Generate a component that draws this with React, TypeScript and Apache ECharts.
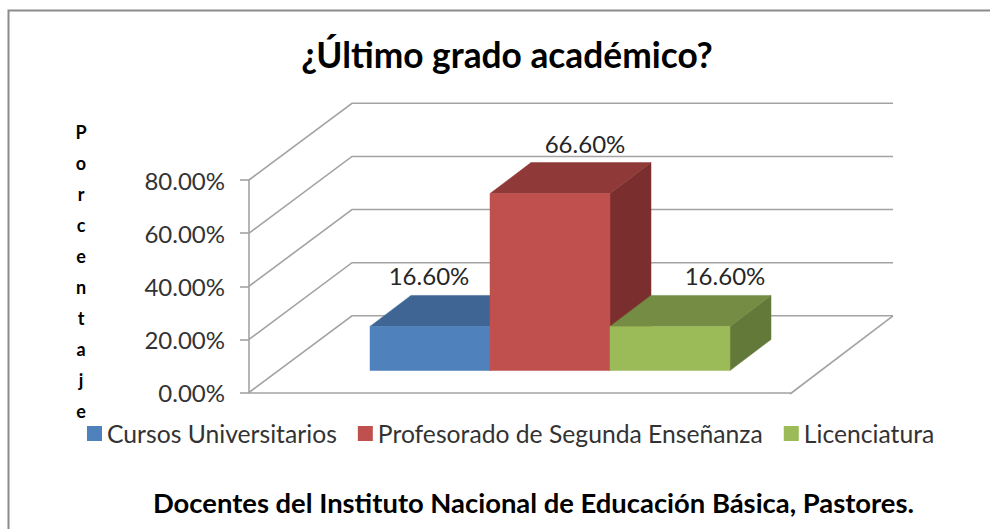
import React, { useEffect, useRef } from "react";
import * as echarts from "echarts";

const chartTitle = "¿Último grado académico?";
const footerTitle = "Docentes del Instituto Nacional de Educación Básica, Pastores.";
const axisTitle = "Porcentaje";
const categories = ["Docentes"];
const tickValues = [0, 20, 40, 60, 80];
const seriesNames = ["Cursos Universitarios", "Profesorado de Segunda Enseñanza", "Licenciatura"];
const seriesValues = [16.6, 66.6, 16.6];

const FONT = "Lato, Carlito, 'Noto Sans', sans-serif";
const faceColors = ["#4F81BD", "#C0504D", "#9BBB59"];
const topColors = ["#3E6594", "#8F3A38", "#748C43"];
const sideColors = ["#375A83", "#7A2F2E", "#637939"];
const labelShift = [-1, 35, 55];
const WALL_DX = 103;
const WALL_DY = -76.7;
const BAR_W = 120;
const BAR_DX = 41;
const BAR_DY = -31;
const BAR_LIFT = 22;

const poly = (points: number[][], fill: string) => ({
  type: "polygon",
  shape: { points },
  style: { fill, stroke: fill, lineWidth: 0.5 },
});

const barRenderer = (index: number) => (_: any, api: any) => {
  const value = api.value(1);
  const base = api.coord([0, 0]);
  const top = api.coord([0, value]);
  const x0 = base[0] + (index - 1.5) * BAR_W + 30.5;
  const x1 = x0 + BAR_W;
  const y0 = base[1] - BAR_LIFT;
  const y1 = y0 - (base[1] - top[1]);
  return {
    type: "group",
    children: [
      poly([[x1, y0], [x1 + BAR_DX, y0 + BAR_DY], [x1 + BAR_DX, y1 + BAR_DY], [x1, y1]], sideColors[index]),
      poly([[x0, y1], [x1, y1], [x1 + BAR_DX, y1 + BAR_DY], [x0 + BAR_DX, y1 + BAR_DY]], topColors[index]),
      poly([[x0, y0], [x1, y0], [x1, y1], [x0, y1]], faceColors[index]),
      {
        type: "text",
        x: (x0 + x1) / 2 + labelShift[index],
        y: y1 + BAR_DY - 19.5,
        style: {
          text: value.toFixed(2) + "%",
          fontFamily: FONT,
          fontSize: 24,
          fill: "#262626",
          align: "center",
          verticalAlign: "middle",
        },
      },
    ],
  };
};

const wallRenderer = (_: any, api: any) => {
  const value = api.value(1);
  const [x, y] = api.coord([0, value]);
  const grid = api.coord([0, 0]);
  const width = api.size([1, 0])[0];
  const right = grid[0] + width / 2;
  const left = grid[0] - width / 2;
  const line = (points: number[][]) => ({
    type: "polyline",
    shape: { points },
    style: { stroke: "#a3a3a3", lineWidth: 1.6, fill: "none" },
  });
  const wallY = y + WALL_DY;
  const children = [line([[left, y], [left + WALL_DX, wallY], [right + WALL_DX, wallY]])];
  if (value === 0) {
    children.push(line([[right + WALL_DX, wallY], [right, y + 1.5]]));
  }
  return { type: "group", children };
};

export default function App() {
  const ref = useRef<HTMLDivElement>(null);
  useEffect(() => {
    const chart = echarts.init(ref.current!, undefined, { renderer: "svg" });
    chart.setOption({
      animation: false,
      backgroundColor: "#ffffff",
      textStyle: { fontFamily: FONT },
      title: [
        {
          text: chartTitle,
          left: 502,
          top: 32,
          textAlign: "center",
          textStyle: { fontFamily: FONT, fontSize: 35.3, fontWeight: "bold", color: "#000000" },
        },
        {
          text: footerTitle,
          left: 528.5,
          top: 484,
          textAlign: "center",
          textStyle: { fontFamily: FONT, fontSize: 27.4, fontWeight: "bold", color: "#000000" },
        },
      ],
      legend: {
        left: 82,
        top: 416,
        icon: "rect",
        itemWidth: 15,
        itemHeight: 15,
        itemGap: 21,
        selectedMode: false,
        data: seriesNames,
        textStyle: { fontFamily: FONT, fontSize: 24.7, color: "#333333" },
      },
      grid: { left: 249, top: 180, width: 541, height: 212.5 },
      xAxis: {
        type: "category",
        data: categories,
        axisLabel: { show: false },
        axisTick: { show: false },
        axisLine: { show: true, onZero: false, offset: 1, lineStyle: { color: "#a3a3a3", width: 1.6 } },
      },
      yAxis: {
        type: "value",
        min: 0,
        max: 80,
        interval: 20,
        splitLine: { show: false },
        axisLine: { show: true, lineStyle: { color: "#a3a3a3", width: 1.6 } },
        axisTick: { show: true, length: 9, lineStyle: { color: "#a3a3a3", width: 1.6 } },
        axisLabel: {
          fontFamily: FONT,
          fontSize: 24,
          color: "#333333",
          margin: 24,
          padding: [0, 0, 4, 0],
          formatter: (v: number) => v.toFixed(2) + "%",
        },
      },
      graphic: [
        {
          type: "polyline",
          shape: { points: [[8.5, 529], [8.5, 10.5], [990, 10.5]] },
          style: { stroke: "#8c8c8c", lineWidth: 2, fill: "none" },
        },
        {
          type: "text",
          x: 81,
          y: 271,
          style: {
            text: axisTitle.split("").join("\n"),
            fontFamily: FONT,
            fontSize: 18,
            fontWeight: "bold",
            lineHeight: 31,
            fill: "#000000",
            align: "center",
            verticalAlign: "middle",
          },
        },
      ],
      series: [
        {
          type: "custom",
          name: "walls",
          silent: true,
          renderItem: wallRenderer,
          data: tickValues.map((v) => [categories[0], v]),
          z: 1,
        },
        ...seriesNames.map((name, i) => ({
          type: "custom",
          name,
          silent: true,
          renderItem: barRenderer(i),
          itemStyle: { color: faceColors[i] },
          data: [[categories[0], seriesValues[i]]],
          z: 2,
        })),
      ],
    });
    return () => chart.dispose();
  }, []);
  return <div ref={ref} style={{ position: "fixed", left: 0, top: 0, width: 990, height: 529 }} />;
}
